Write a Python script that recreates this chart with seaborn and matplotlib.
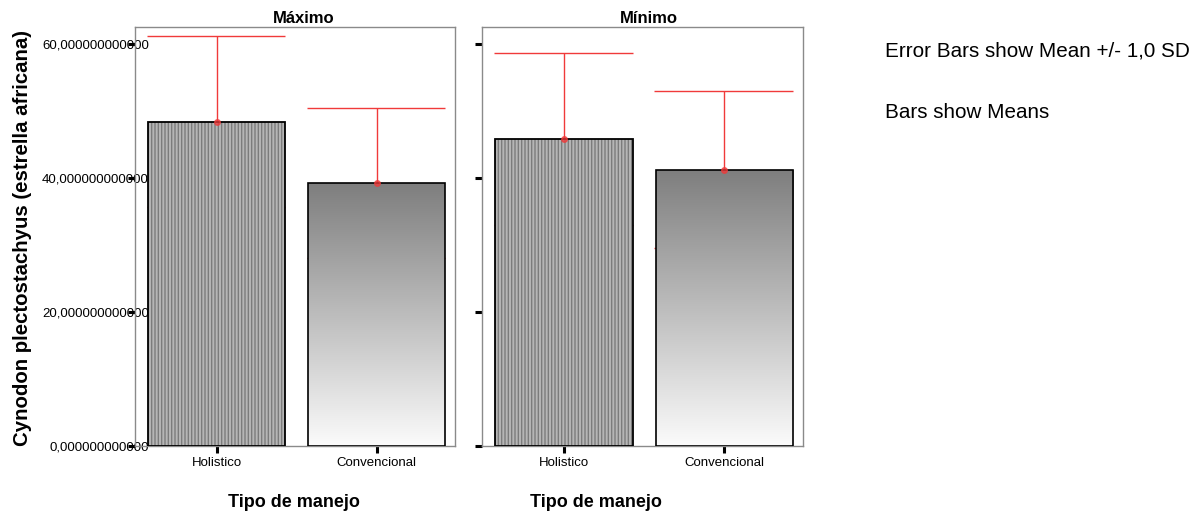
import numpy as np
import pandas as pd
import matplotlib
matplotlib.use("Agg")
import matplotlib.pyplot as plt
import seaborn as sns
from matplotlib.colors import LinearSegmentedColormap
from matplotlib.patches import Rectangle

# ---- data ----
panels = ["Máximo", "Mínimo"]
categories = ["Holistico", "Convencional"]
means_maximo = [48.4, 39.2]
sd_maximo = [12.8, 11.2]
means_minimo = [45.8, 41.2]
sd_minimo = [12.8, 11.7]
y_ticks = [0, 20, 40, 60]
y_ticklabels = [f"{v:.12f}".replace(".", ",") for v in y_ticks]

x_title = "Tipo de manejo"
y_title = "Cynodon plectostachyus (estrella africana)"
note_lines = ["Error Bars show Mean +/- 1,0 SD", "Bars show Means"]

# ---- style ----
sns.set_style("white")
plt.rcParams["font.family"] = ["Liberation Sans", "DejaVu Sans"]
plt.rcParams["hatch.linewidth"] = 1.0
plt.rcParams["text.color"] = "black"
plt.rcParams["axes.labelcolor"] = "black"
plt.rcParams["xtick.color"] = "black"
plt.rcParams["ytick.color"] = "black"

RED = "#f03a3a"
W, H = 1195, 513
fig = plt.figure(figsize=(W / 100, H / 100), dpi=100)


def px_axes(left, top, right, bottom):
    return fig.add_axes([left / W, 1 - bottom / H, (right - left) / W, (bottom - top) / H])


ax_max = px_axes(135, 27, 455, 446)
ax_min = px_axes(482, 27, 803, 446)

bar_w = 0.856
grad_cmap = LinearSegmentedColormap.from_list("fade", ["#fbfbfb", "#7e7e7e"])
gradient = np.linspace(0, 1, 256).reshape(-1, 1)


def draw_panel(ax, means, sds, show_labels):
    df = pd.DataFrame({"manejo": categories, "media": means})
    sns.barplot(data=df, x="manejo", y="media", ax=ax, width=bar_w,
                color="#b6b6b6", edgecolor="black", linewidth=1.2,
                errorbar=None, zorder=3, saturation=1)
    bars = list(ax.patches)

    # striped bar: hatch in gray, crisp black outline on top
    b0 = bars[0]
    b0.set_edgecolor("#7c7c7c")
    b0.set_linewidth(0)
    b0.set_hatch("|||||")
    ax.add_patch(Rectangle(b0.get_xy(), b0.get_width(), b0.get_height(),
                           facecolor="none", edgecolor="black", linewidth=1.3, zorder=3.2))

    # gradient bar
    b1 = bars[1]
    x0, y0 = b1.get_xy()
    im = ax.imshow(gradient, extent=[x0, x0 + b1.get_width(), 0, b1.get_height()],
                   origin="lower", aspect="auto", cmap=grad_cmap, zorder=3.1,
                   interpolation="bilinear")
    im.set_clip_path(b1)
    b1.set_facecolor("none")
    b1.set_zorder(3.2)

    # error bars (mean +/- 1 SD), caps as wide as the bar
    for i, (m, s) in enumerate(zip(means, sds)):
        ax.vlines(i, m - s, m + s, color=RED, lw=1.0, zorder=2)
        ax.hlines([m - s, m + s], i - bar_w / 2 - 0.008, i + bar_w / 2, color=RED, lw=1.0, zorder=2)
        ax.plot(i, m, "o", ms=4, color=RED, alpha=0.75, zorder=4)

    ax.set_xlim(-0.51, 1.49)
    ax.set_ylim(0, 62.5)
    ax.set_xlabel("")
    ax.set_ylabel("")
    ax.set_yticks(y_ticks)
    ax.set_yticklabels(y_ticklabels if show_labels else [""] * len(y_ticks))
    ax.tick_params(axis="both", direction="out", length=5, width=2.2, color="black",
                   bottom=True, left=True, labelsize=9.5, labelcolor="black")
    ax.tick_params(axis="y", pad=-15)
    ax.tick_params(axis="x", pad=3)
    for sp in ax.spines.values():
        sp.set_color("#8a8a8a")
        sp.set_linewidth(1.0)


draw_panel(ax_max, means_maximo, sd_maximo, True)
draw_panel(ax_min, means_minimo, sd_minimo, False)

# panel titles
fig.text(303.5 / W, 1 - 23 / H, panels[0], ha="center", va="baseline", fontsize=12, fontweight="bold")
fig.text(648.7 / W, 1 - 23 / H, panels[1], ha="center", va="baseline", fontsize=12, fontweight="bold")

# axis titles
fig.text(294 / W, 1 - 507 / H, x_title, ha="center", va="baseline", fontsize=13, fontweight="bold")
fig.text(596 / W, 1 - 507 / H, x_title, ha="center", va="baseline", fontsize=13, fontweight="bold")
fig.text(23 / W, 1 - 238.5 / H, y_title, ha="center", va="center", rotation=90,
         fontsize=14.7, fontweight="bold")

# notes
fig.text(885 / W, 1 - 51 / H, note_lines[0], ha="left", va="center", fontsize=14.9)
fig.text(885 / W, 1 - 113 / H, note_lines[1], ha="left", va="center", fontsize=14.9)

fig.savefig("out.png", dpi=100)
